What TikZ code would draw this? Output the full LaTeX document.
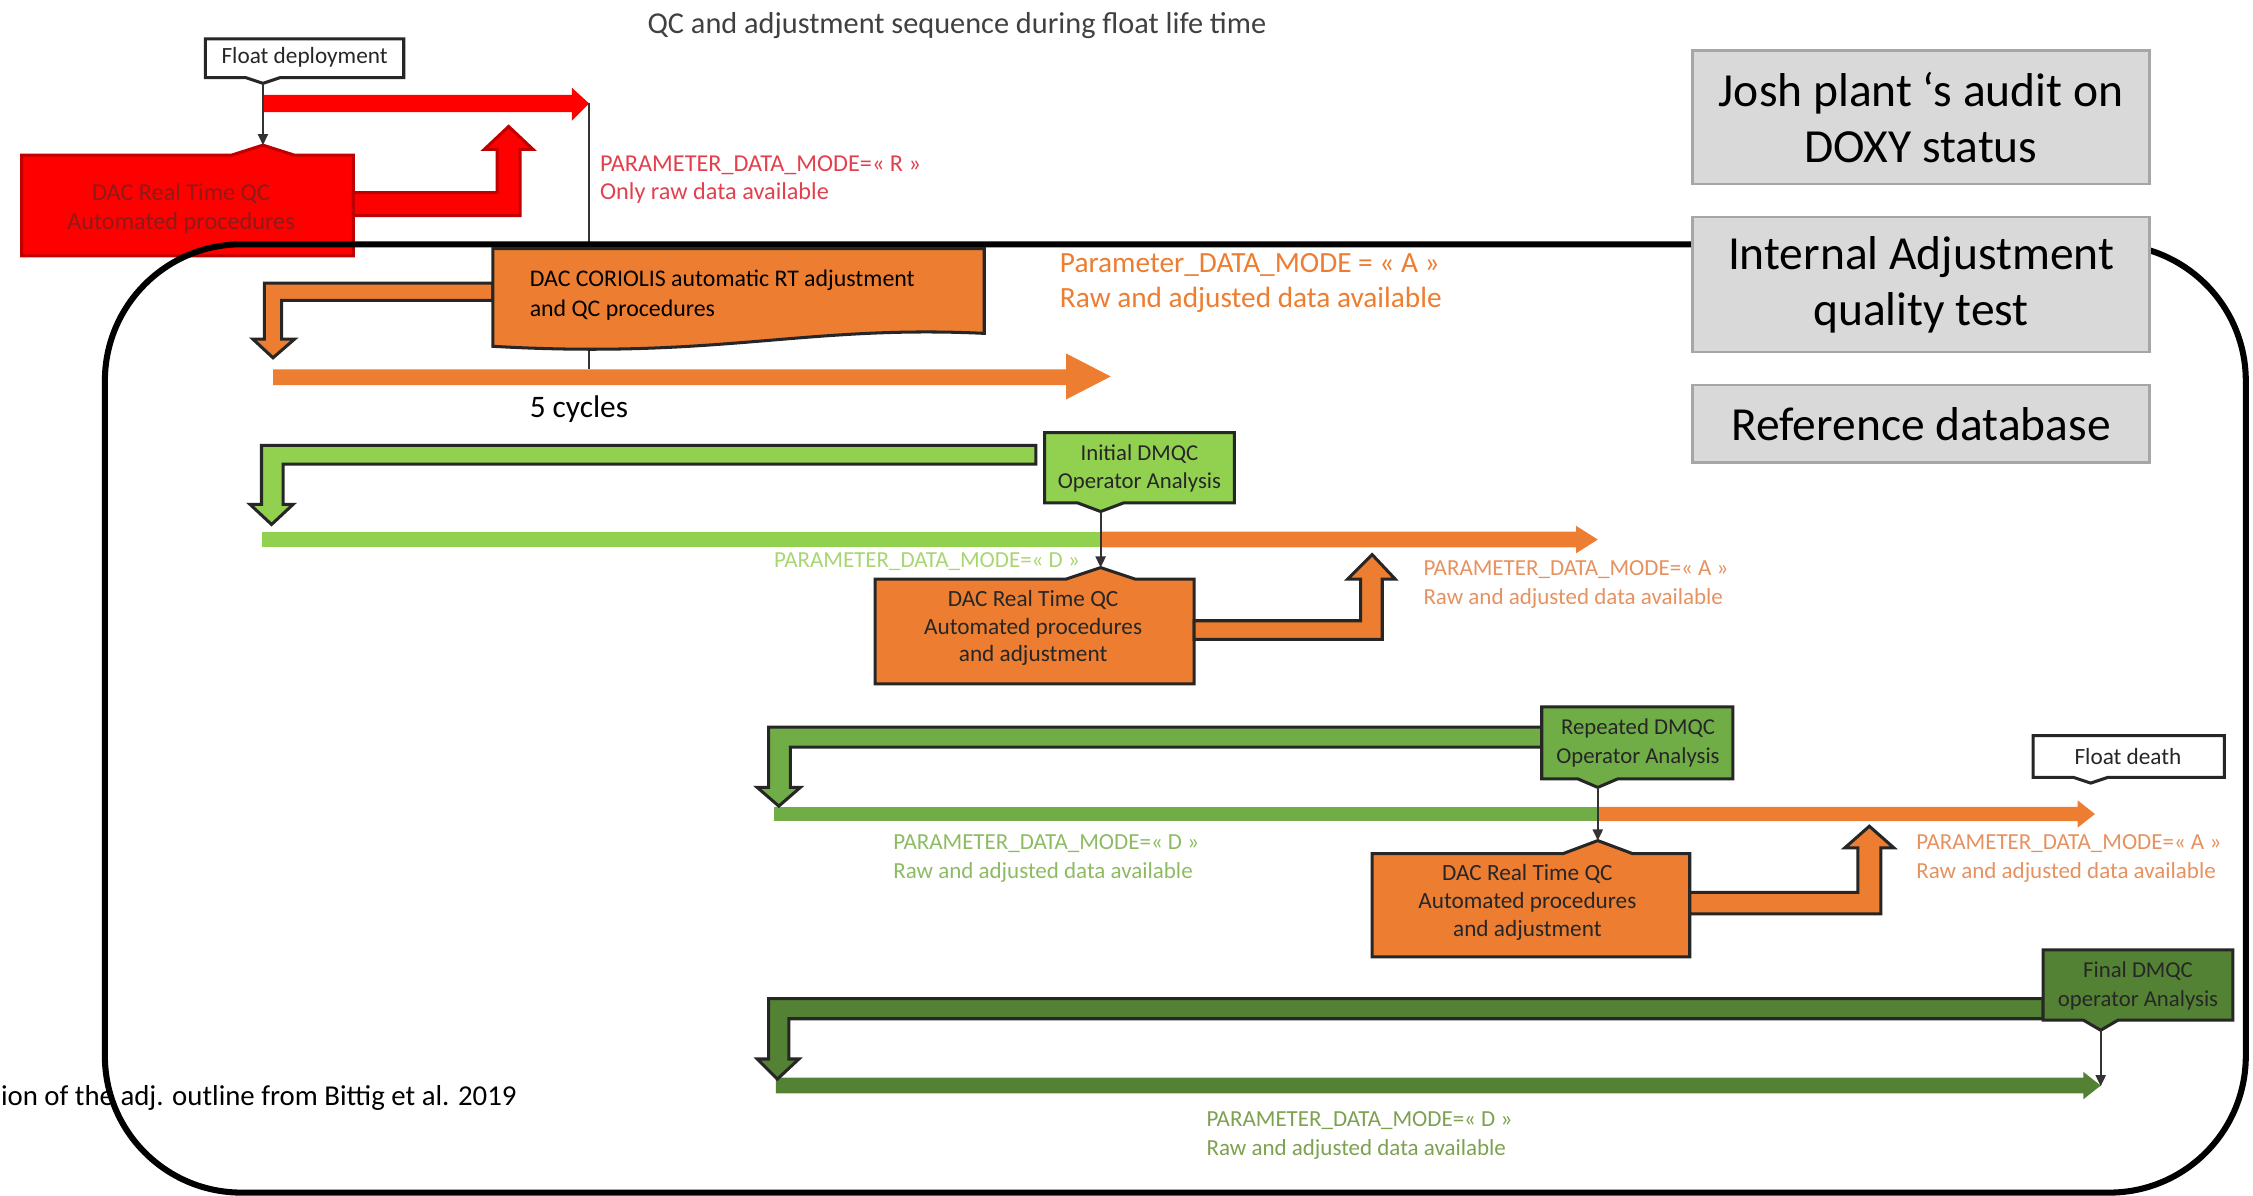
\documentclass[tikz,border=0pt]{standalone}
\usepackage{fontspec}
\setmainfont{Carlito}
\usetikzlibrary{arrows.meta}

\definecolor{redfill}{HTML}{FF0000}
\definecolor{redline}{HTML}{C00000}
\definecolor{redlabel}{HTML}{E3404E}
\definecolor{redboxtext}{HTML}{8E1A1A}
\definecolor{orangefill}{HTML}{ED7D31}
\definecolor{orangelabel}{HTML}{E59260}
\definecolor{lgreen}{HTML}{92D050}
\definecolor{lgreenlabel}{HTML}{A8D672}
\definecolor{mgreen}{HTML}{70AD47}
\definecolor{mgreenlabel}{HTML}{8DBB63}
\definecolor{dgreen}{HTML}{548235}
\definecolor{dgreenlabel}{HTML}{7DA14F}
\definecolor{grayfill}{HTML}{D9D9D9}
\definecolor{grayline}{HTML}{A6A6A6}
\definecolor{titlegray}{HTML}{404040}

\begin{document}
\begin{tikzpicture}[x=0.01cm, y=-0.01cm,
  outline/.style={line width=0.6pt, draw=black!85},
  boxtext/.style={inner sep=0pt, align=center, font=\fontsize{4.6}{5.6}\selectfont, text=black!85},
  param/.style={anchor=west, inner sep=0pt, align=left, font=\fontsize{4.55}{5.7}\selectfont},
  bigparam/.style={anchor=west, inner sep=0pt, align=left, font=\fontsize{5.8}{6.8}\selectfont},
  link/.style={line width=0.35pt, draw=black!80, -{Triangle[length=2.2pt,width=2pt]}},
  graybox/.style={draw=grayline, fill=grayfill, line width=0.5pt, minimum width=3.18cm,
    inner sep=0pt, align=center, font=\fontsize{9.4}{11.1}\selectfont}]
\useasboundingbox (0,0) rectangle (1568,832);

% ---------- title ----------
\node[inner sep=0pt, text=titlegray, font=\fontsize{6}{7}\selectfont] (title) at (666,18)
  {QC and adjustment sequence during float life time};

% ---------- real-time stage (mode R) ----------
\fill[redfill] (183,66) -- (398,66) -- (398,61) -- (410,72) -- (398,84) -- (398,78) -- (183,78) -- cycle;
\coordinate (rtip) at (410,72);
\coordinate (rbase) at (410,257);
\draw[line width=0.35pt, black!80] (rtip) -- (rbase);

\draw[outline, draw=redline, fill=redfill]
  (15,108) -- (161,108) -- (183,101) -- (205,108) -- (246,108) -- (246,178) -- (15,178) -- cycle;
\node[boxtext, text=redboxtext, font=\fontsize{4.8}{5.7}\selectfont] (rtqc) at (126,145)
  {DAC Real Time QC\\Automated procedures};
\coordinate (rtqc-in) at (183,101);
\draw[outline, draw=redline, fill=redfill]
  (246,134) -- (346,134) -- (346,104) -- (337,104) -- (354,88) -- (371,104) -- (362,104) -- (362,150) -- (246,150) -- cycle;

\draw[outline, fill=white]
  (143,27) -- (281,27) -- (281,54) -- (195,54) -- (183,58) -- (171,54) -- (143,54) -- cycle;
\node[boxtext] (deploy) at (212,40) {Float deployment};
\coordinate (deploy-out) at (183,58);
\draw[link] (deploy-out) -- (rtqc-in);

\node[param, text=redlabel, font=\fontsize{4.8}{5.7}\selectfont] (modeR) at (417,125)
  {PARAMETER\_DATA\_MODE=« R »\\Only raw data available};

% ---------- frame of the adjusted stages ----------
\draw[line width=1.2pt, rounded corners=0.95cm] (73,170) rectangle (1563,830);

% ---------- automatic RT adjustment (mode A) ----------
\fill[orangefill] (190,257) -- (742,257) -- (742,246) -- (773,262) -- (742,278) -- (742,268) -- (190,268) -- cycle;
\draw[outline, fill=orangefill]
  (343,197) -- (184,197) -- (184,236) -- (176,236) -- (190,249) -- (205,236) -- (196,236) -- (196,209) -- (343,209) -- cycle;
\draw[outline, fill=orangefill]
  (343,173) -- (685,173) -- (685,232) .. controls (560,226) and (500,250) .. (343,241) -- cycle;
\node[anchor=west, inner sep=0pt, align=left, font=\fontsize{4.72}{6}\selectfont] (coriolis) at (368,205.5)
  {DAC CORIOLIS automatic RT adjustment\\and QC procedures};
\node[anchor=west, inner sep=0pt, font=\fontsize{6.2}{7}\selectfont] (cycles) at (368,285) {5 cycles};
\node[bigparam, text=orangefill] (modeA1) at (737,197)
  {Parameter\_DATA\_MODE = « A »\\Raw and adjusted data available};

% ---------- side boxes ----------
\node[graybox, minimum height=0.93cm] (audit) at (1337,81.5) {Josh plant ‘s audit on\\DOXY status};
\node[graybox, minimum height=0.94cm] (internal) at (1337,198) {Internal Adjustment\\quality test};
\node[graybox, minimum height=0.54cm] (refdb) at (1337,295) {Reference database};

% ---------- initial DMQC ----------
\fill[lgreen] (182,370) rectangle (766,381);
\fill[orangefill] (766,370) -- (1097,370) -- (1097,366) -- (1112,375.5) -- (1097,385) -- (1097,381) -- (766,381) -- cycle;
\draw[outline, fill=lgreen]
  (721,310) -- (182,310) -- (182,351) -- (174,351) -- (189,365) -- (204,351) -- (197,351) -- (197,323) -- (721,323) -- cycle;
\draw[outline, fill=lgreen]
  (727,301) -- (859,301) -- (859,350) -- (782,350) -- (766,356) -- (750,350) -- (727,350) -- cycle;
\node[boxtext, font=\fontsize{4.5}{5.7}\selectfont] (initdm) at (793,326) {Initial DMQC\\Operator Analysis};
\coordinate (initdm-out) at (766,356);

\node[param, text=lgreenlabel] (modeD1) at (538,391) {PARAMETER\_DATA\_MODE=« D »};

\draw[outline, fill=orangefill]
  (609,403) -- (742,403) -- (766,395) -- (790,403) -- (831,403) -- (831,476) -- (609,476) -- cycle;
\node[boxtext, font=\fontsize{4.6}{5.5}\selectfont] (rtadj1) at (719,437)
  {DAC Real Time QC\\Automated procedures\\and adjustment};
\coordinate (rtadj1-in) at (766,395);
\draw[link] (initdm-out) -- (rtadj1-in);
\draw[outline, fill=orangefill]
  (831,432) -- (947,432) -- (947,403) -- (938,403) -- (955,386) -- (971,403) -- (962,403) -- (962,445) -- (831,445) -- cycle;
\node[param, text=orangelabel] (modeA2) at (990,407)
  {PARAMETER\_DATA\_MODE=« A »\\Raw and adjusted data available};

% ---------- repeated DMQC ----------
\fill[mgreen] (539,561.5) rectangle (1112,571.5);
\fill[orangefill] (1112,561.5) -- (1446,561.5) -- (1446,557) -- (1458,566.5) -- (1446,576) -- (1446,571.5) -- (1112,571.5) -- cycle;
\draw[outline, fill=mgreen]
  (1073,506) -- (535,506) -- (535,548) -- (527,548) -- (542,561) -- (557,548) -- (550,548) -- (550,520) -- (1073,520) -- cycle;
\draw[outline, fill=mgreen]
  (1073,492) -- (1206,492) -- (1206,542) -- (1126,542) -- (1112,548) -- (1098,542) -- (1073,542) -- cycle;
\node[boxtext, font=\fontsize{4.5}{5.7}\selectfont] (repdm) at (1140,517) {Repeated DMQC\\Operator Analysis};
\coordinate (repdm-out) at (1112,548);

\draw[outline, fill=orangefill]
  (955,594) -- (1088,594) -- (1112,585) -- (1136,594) -- (1176,594) -- (1176,666) -- (955,666) -- cycle;
\node[boxtext, font=\fontsize{4.6}{5.5}\selectfont] (rtadj2) at (1063,628)
  {DAC Real Time QC\\Automated procedures\\and adjustment};
\coordinate (rtadj2-in) at (1112,585);
\draw[link] (repdm-out) -- (rtadj2-in);
\draw[outline, fill=orangefill]
  (1176,621) -- (1293,621) -- (1293,590) -- (1284,590) -- (1301,575) -- (1318,590) -- (1309,590) -- (1309,636) -- (1176,636) -- cycle;

\node[param, text=mgreenlabel] (modeD2) at (621,597.5)
  {PARAMETER\_DATA\_MODE=« D »\\Raw and adjusted data available};
\node[param, text=orangelabel] (modeA3) at (1333,597.5)
  {PARAMETER\_DATA\_MODE=« A »\\Raw and adjusted data available};

\draw[outline, fill=white]
  (1415,512) -- (1548,512) -- (1548,541) -- (1467,541) -- (1455,545) -- (1443,541) -- (1415,541) -- cycle;
\node[boxtext] (death) at (1481,526.5) {Float death};

% ---------- final DMQC ----------
\fill[dgreen] (540,750) -- (1450,750) -- (1450,746) -- (1462,755.5) -- (1450,765) -- (1450,761) -- (540,761) -- cycle;
\draw[outline, fill=dgreen]
  (1422,695) -- (535,695) -- (535,737) -- (527,737) -- (541,751) -- (556,737) -- (549,737) -- (549,709) -- (1422,709) -- cycle;
\draw[outline, fill=dgreen]
  (1422,661) -- (1554,661) -- (1554,710) -- (1474,710) -- (1462,717) -- (1450,710) -- (1422,710) -- cycle;
\node[boxtext, font=\fontsize{4.5}{5.7}\selectfont] (findm) at (1488,686) {Final DMQC\\operator Analysis};
\coordinate (findm-out) at (1462,717);
\coordinate (endD) at (1462,756);
\draw[link] (findm-out) -- (endD);

\node[param, text=dgreenlabel] (modeD3) at (839,790)
  {PARAMETER\_DATA\_MODE=« D »\\Raw and adjusted data available};

% ---------- source note ----------
\node[anchor=west, inner sep=0pt, font=\fontsize{5.7}{6.5}\selectfont] (source) at (0,764)
  {ion of the adj. outline from Bittig et al. 2019};
\end{tikzpicture}
\end{document}
